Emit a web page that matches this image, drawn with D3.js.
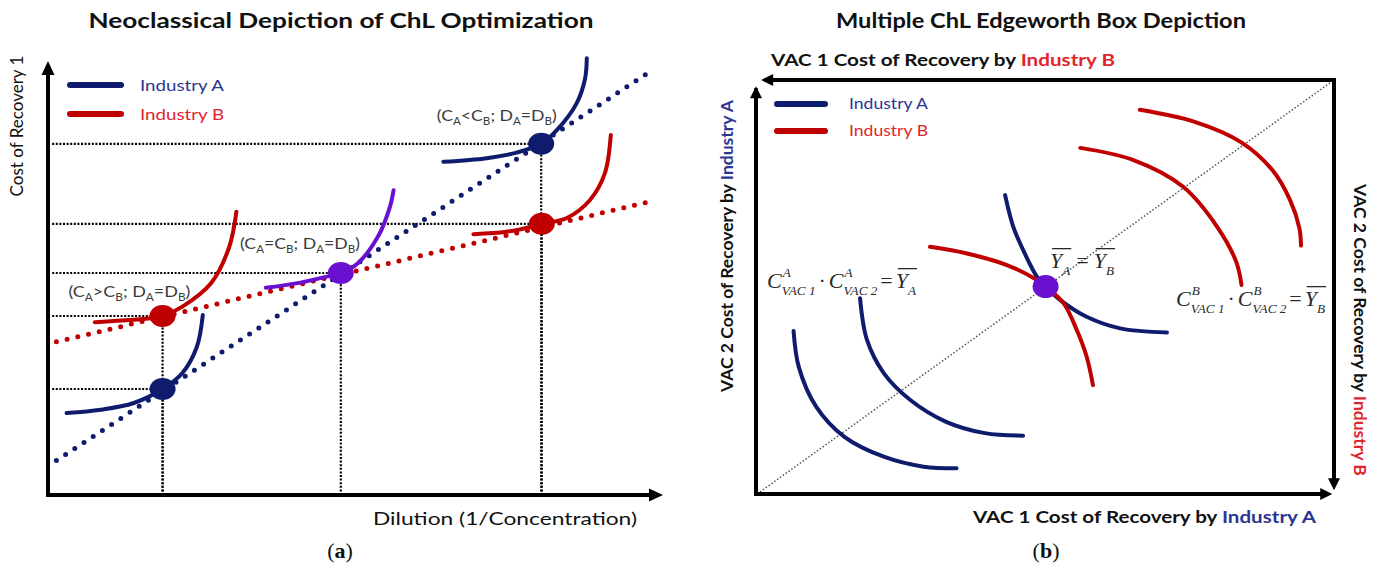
<!DOCTYPE html>
<html>
<head>
<meta charset="utf-8">
<script src="https://cdn.jsdelivr.net/npm/d3@7"></script>
<style>
  body { margin: 0; background: #fff; }
  svg { display: block; }
</style>
</head>
<body>
<svg id="chart" width="1384" height="569"></svg>
<script>
// ---------- panel (a) data: dilution (x) vs cost of recovery (y), 0-100 units ----------
const tangentA = [[1.4, 8.6], [100.5, 106.0]];
const tangentB = [[1.4, 38.3], [100.2, 73.3]];

const curveALow = [[3.1, 20.5], [8.8, 21.3], [14.3, 23.0], [19.1, 26.5], [22.4, 30.5], [24.8, 37.0], [25.8, 45.0]];
const curveBLow = [[7.8, 43.2], [12.3, 43.6], [17.0, 44.2], [19.1, 44.75], [22.4, 47.1], [27.2, 53.0], [30.2, 62.0], [31.4, 70.8]];
const curveEqual = [[36.3, 51.8], [42.1, 53.1], [46.2, 54.5], [48.8, 55.5], [51.6, 57.9], [55.0, 64.6], [57.0, 72.1], [57.6, 76.2]];
const curveAHigh = [[65.9, 83.3], [73.1, 84.2], [78.1, 85.6], [82.2, 87.8], [84.8, 91.2], [88.1, 97.9], [89.5, 104.0], [89.8, 109.2]];
const curveBHigh = [[70.9, 65.2], [76.4, 65.8], [79.8, 66.8], [82.3, 67.8], [86.4, 69.2], [90.3, 73.7], [92.8, 80.4], [93.8, 90.0]];

const optimaX = [19.1, 19.1, 48.8, 82.2, 82.3];
const optimaY = [26.5, 44.75, 55.5, 87.8, 67.8];
const optimaInd = ["A", "B", "AB", "A", "B"];

const annotations = [
  ["(C", "A", ">C", "B", "; D", "A", "=D", "B", ")"],
  ["(C", "A", "=C", "B", "; D", "A", "=D", "B", ")"],
  ["(C", "A", "<C", "B", "; D", "A", "=D", "B", ")"]
];

// ---------- panel (b) data: Edgeworth box, 0-100 units from Industry A origin ----------
const indiffA = [
  [[6.5, 39.4], [7.4, 30.7], [10.4, 21.1], [15.3, 13.8], [22.1, 9.0], [29.0, 6.6], [34.7, 6.2]],
  [[18.0, 47.3], [19.2, 37.2], [22.1, 29.2], [26.7, 22.7], [32.8, 17.5], [39.6, 14.7], [46.2, 14.1]],
  [[43.1, 72.2], [44.5, 64.6], [46.5, 58.1], [48.6, 52.5], [50.1, 50.1], [52.6, 46.9], [57.2, 42.8], [63.0, 40.0], [71.1, 39.0]]
];
const indiffB = [
  [[30.1, 59.7], [36.5, 58.1], [43.4, 55.3], [48.6, 51.7], [50.1, 50.1], [53.2, 46.1], [55.5, 39.6], [57.2, 33.2], [58.3, 26.3]],
  [[56.1, 83.6], [65.2, 80.7], [73.9, 74.2], [79.9, 64.3], [83.1, 56.0], [84.0, 50.5]],
  [[66.4, 92.8], [75.9, 89.9], [83.9, 85.0], [89.3, 78.3], [92.4, 71.0], [94.0, 64.3], [94.3, 60.0]]
];
const contractLine = [[0.7, 0.5], [99.3, 99.3]];
const tangency = [50.1, 50.1];

const legendLabels = ["Industry A", "Industry B"];

// ---------- styles ----------
const navy = "#0f1c6e", red = "#c00000", purple = "#6a10d0";
const navyText = "#2b3592", redText = "#e0262d";
const indColor = { A: navy, B: red, AB: purple };
const sans = "Lato, 'Open Sans', sans-serif";
const serif = "'Liberation Serif', 'DejaVu Serif', serif";
const mathInk = "#2a2a2a";

const svg = d3.select("#chart");

function arrowHead(g, x, y, dx, dy, len, wid) {
  let bx = x - dx * len, by = y - dy * len;
  let px = -dy * wid / 2, py = dx * wid / 2;
  g.append("path")
    .attr("d", `M${x},${y}L${bx + px},${by + py}L${bx - px},${by - py}Z`)
    .attr("fill", "#000");
}

function subText(g, x, y, parts, size, color, width) {
  let t = g.append("text").attr("x", x).attr("y", y)
    .attr("font-family", sans).attr("font-size", size).attr("fill", color)
    .attr("textLength", width).attr("lengthAdjust", "spacingAndGlyphs");
  parts.forEach((p, i) => {
    let sub = i % 2 == 1;
    t.append("tspan")
      .attr("font-size", sub ? size * 0.66 : size)
      .attr("dy", i == 0 ? 0 : (sub ? 4 : -4))
      .text(p);
  });
  return t;
}

// math term helper: base glyph with optional super/subscript and overline
function mathText(g, x, y, pieces, size) {
  let cx = x;
  for (let p of pieces) {
    let start = cx;
    let t = g.append("text").attr("x", cx).attr("y", y)
      .attr("font-family", serif).attr("font-size", size)
      .attr("font-style", p.it ? "italic" : "normal")
      .attr("fill", mathInk).text(p.t);
    cx += t.node().getComputedTextLength();
    let w = 0;
    if (p.sup) {
      let s = g.append("text").attr("x", cx + 1).attr("y", y - size * 0.5)
        .attr("font-family", serif).attr("font-size", size * 0.6).attr("font-style", "italic")
        .attr("fill", mathInk).text(p.sup);
      w = Math.max(w, s.node().getComputedTextLength() + 1);
    }
    if (p.sub) {
      let s = g.append("text").attr("x", cx).attr("y", y + size * 0.3)
        .attr("font-family", serif).attr("font-size", size * 0.6).attr("font-style", "italic")
        .attr("fill", mathInk).text(p.sub);
      w = Math.max(w, s.node().getComputedTextLength());
    }
    cx += w;
    if (p.bar) {
      g.append("line").attr("x1", start + 2).attr("x2", cx + 1)
        .attr("y1", y - size * 0.88).attr("y2", y - size * 0.88)
        .attr("stroke", mathInk).attr("stroke-width", 1.3);
    }
    cx += p.gap || 0;
  }
}

function mixedLabel(g, transform, anchor, head, tail, tailColor, size, width) {
  let t = g.append("text").attr("transform", transform).attr("text-anchor", anchor)
    .attr("font-family", sans).attr("font-weight", "bold").attr("font-size", size).attr("fill", "#111");
  if (width) t.attr("textLength", width).attr("lengthAdjust", "spacingAndGlyphs");
  t.append("tspan").text(head);
  t.append("tspan").attr("fill", tailColor).text(tail);
  return t;
}

// ================= panel (a) =================
const gA = svg.append("g");
const xA = d3.scaleLinear().domain([0, 100]).range([48, 648]);
const yA = d3.scaleLinear().domain([0, 100]).range([495, 95]);
const lineA = d3.line().x(d => xA(d[0])).y(d => yA(d[1]));
const smoothA = d3.line().x(d => xA(d[0])).y(d => yA(d[1])).curve(d3.curveCatmullRom.alpha(0.5));

gA.append("text").attr("x", 341).attr("y", 28).attr("text-anchor", "middle")
  .attr("font-family", sans).attr("font-weight", "bold").attr("font-size", 20)
  .attr("textLength", 505).attr("lengthAdjust", "spacingAndGlyphs")
  .attr("fill", "#111").text("Neoclassical Depiction of ChL Optimization");

// black dotted guides from each optimum to the axes
optimaX.forEach((x, i) => {
  let y = optimaY[i];
  gA.append("path").attr("d", lineA([[0.7, y], [x, y]]))
    .attr("fill", "none").attr("stroke", "#000").attr("stroke-width", 2.2).attr("stroke-dasharray", "2 1.6");
  gA.append("path").attr("d", lineA([[x, 0], [x, y]]))
    .attr("fill", "none").attr("stroke", "#000").attr("stroke-width", 2.2).attr("stroke-dasharray", "2 1.6");
});

// dotted cost lines
[[tangentA, navy], [tangentB, red]].forEach(([pts, c]) => {
  gA.append("path").attr("d", lineA(pts))
    .attr("fill", "none").attr("stroke", c).attr("stroke-width", 5)
    .attr("stroke-linecap", "round").attr("stroke-dasharray", "0 11");
});

// indifference curves
[[curveALow, navy], [curveBLow, red], [curveEqual, purple], [curveAHigh, navy], [curveBHigh, red]].forEach(([pts, c]) => {
  gA.append("path").attr("d", smoothA(pts))
    .attr("fill", "none").attr("stroke", c).attr("stroke-width", 4).attr("stroke-linecap", "round");
});

// optimum points
optimaX.forEach((x, i) => {
  gA.append("ellipse").attr("cx", xA(x)).attr("cy", yA(optimaY[i]))
    .attr("rx", 13).attr("ry", 11).attr("fill", indColor[optimaInd[i]]);
});

// annotations
subText(gA, xA(3.4), yA(49.4), annotations[0], 16, "#3c3c3c", 122);
subText(gA, xA(32), yA(61.4), annotations[1], 16, "#3c3c3c", 120);
subText(gA, xA(64.8), yA(93.5), annotations[2], 16, "#3c3c3c", 120);

// axes
gA.append("line").attr("x1", xA(0)).attr("y1", yA(0) + 2).attr("x2", xA(0)).attr("y2", yA(105))
  .attr("stroke", "#000").attr("stroke-width", 4);
arrowHead(gA, xA(0), yA(108.5), 0, -1, 14, 13);
gA.append("line").attr("x1", xA(0) - 2).attr("y1", yA(0)).attr("x2", xA(100.5)).attr("y2", yA(0))
  .attr("stroke", "#000").attr("stroke-width", 4);
arrowHead(gA, xA(102.5), yA(0), 1, 0, 14, 13);

gA.append("text").attr("transform", "translate(23,126) rotate(-90)")
  .attr("text-anchor", "middle").attr("font-family", sans).attr("font-size", 17)
  .attr("fill", "#111").text("Cost of Recovery 1");
gA.append("text").attr("x", 637).attr("y", 525).attr("text-anchor", "end")
  .attr("font-family", sans).attr("font-size", 17).attr("fill", "#111")
  .attr("textLength", 264).attr("lengthAdjust", "spacingAndGlyphs")
  .text("Dilution (1/Concentration)");

// legend (a)
legendLabels.forEach((lab, i) => {
  let y = 85 + i * 29;
  gA.append("line").attr("x1", 70).attr("x2", 121).attr("y1", y).attr("y2", y)
    .attr("stroke", i ? red : navy).attr("stroke-width", 6).attr("stroke-linecap", "round");
  gA.append("text").attr("x", 140).attr("y", y + 5.5).attr("font-family", sans).attr("font-size", 16)
    .attr("textLength", 84).attr("lengthAdjust", "spacingAndGlyphs")
    .attr("fill", i ? redText : navyText).text(lab);
});

gA.append("text").attr("x", 340).attr("y", 558).attr("text-anchor", "middle")
  .attr("font-family", serif).attr("font-size", 22).attr("fill", "#111")
  .html("(<tspan font-weight='bold'>a</tspan>)");

// ================= panel (b) =================
const gB = svg.append("g");
const xB = d3.scaleLinear().domain([0, 100]).range([756, 1334]);
const yB = d3.scaleLinear().domain([0, 100]).range([494, 80]);
const lineB = d3.line().x(d => xB(d[0])).y(d => yB(d[1]));
const smoothB = d3.line().x(d => xB(d[0])).y(d => yB(d[1])).curve(d3.curveCatmullRom.alpha(0.5));

gB.append("text").attr("x", 1041).attr("y", 28).attr("text-anchor", "middle")
  .attr("font-family", sans).attr("font-weight", "bold").attr("font-size", 20)
  .attr("textLength", 410).attr("lengthAdjust", "spacingAndGlyphs")
  .attr("fill", "#111").text("Multiple ChL Edgeworth Box Depiction");

gB.append("path").attr("d", lineB(contractLine))
  .attr("fill", "none").attr("stroke", "#555").attr("stroke-width", 1.5).attr("stroke-dasharray", "1.5 2");

indiffA.forEach(pts => {
  gB.append("path").attr("d", smoothB(pts)).attr("fill", "none")
    .attr("stroke", navy).attr("stroke-width", 4).attr("stroke-linecap", "round");
});
indiffB.forEach(pts => {
  gB.append("path").attr("d", smoothB(pts)).attr("fill", "none")
    .attr("stroke", red).attr("stroke-width", 4).attr("stroke-linecap", "round");
});
gB.append("ellipse").attr("cx", xB(tangency[0])).attr("cy", yB(tangency[1]))
  .attr("rx", 13).attr("ry", 11.5).attr("fill", purple);

// box axes
gB.append("line").attr("x1", xB(0)).attr("y1", yB(0) + 2).attr("x2", xB(0)).attr("y2", yB(98))
  .attr("stroke", "#000").attr("stroke-width", 4);
arrowHead(gB, xB(0), yB(98.5), 0, -1, 12, 12);
gB.append("line").attr("x1", xB(0) - 2).attr("y1", yB(0)).attr("x2", xB(98.5)).attr("y2", yB(0))
  .attr("stroke", "#000").attr("stroke-width", 4);
arrowHead(gB, xB(99.7), yB(0), 1, 0, 12, 12);
gB.append("line").attr("x1", xB(100)).attr("y1", yB(100) - 2).attr("x2", xB(100)).attr("y2", yB(2))
  .attr("stroke", "#000").attr("stroke-width", 4);
arrowHead(gB, xB(100), yB(0.9), 0, 1, 12, 12);
gB.append("line").attr("x1", xB(100) + 2).attr("y1", yB(100)).attr("x2", xB(1.5)).attr("y2", yB(100))
  .attr("stroke", "#000").attr("stroke-width", 4);
arrowHead(gB, xB(0.9), yB(100), -1, 0, 12, 12);

// axis titles
mixedLabel(gB, "translate(771,66)", "start", "VAC 1 Cost of Recovery by ", "Industry B", redText, 17, 344);
mixedLabel(gB, "translate(1316,523)", "end", "VAC 1 Cost of Recovery by ", "Industry A", navyText, 17, 343);
mixedLabel(gB, "translate(733,246) rotate(-90)", "middle", "VAC 2 Cost of Recovery by ", "Industry A", navyText, 17.5, null);
mixedLabel(gB, "translate(1354,330) rotate(90)", "middle", "VAC 2 Cost of Recovery by ", "Industry B", redText, 17.5, null);

// legend (b)
legendLabels.forEach((lab, i) => {
  let y = 104 + i * 27;
  gB.append("line").attr("x1", 777).attr("x2", 825).attr("y1", y).attr("y2", y)
    .attr("stroke", i ? red : navy).attr("stroke-width", 6).attr("stroke-linecap", "round");
  gB.append("text").attr("x", 849).attr("y", y + 5).attr("font-family", sans).attr("font-size", 15)
    .attr("textLength", 79).attr("lengthAdjust", "spacingAndGlyphs")
    .attr("fill", i ? redText : navyText).text(lab);
});

// utility formulas
mathText(gB, 767, 288, [
  { t: "C", it: true, sup: "A", sub: "VAC 1", gap: 3 },
  { t: "·", gap: 3 },
  { t: "C", it: true, sup: "A", sub: "VAC 2", gap: 3 },
  { t: "=", gap: 3 },
  { t: "Y", it: true, sub: "A", bar: true }
], 22);
mathText(gB, 1050, 268, [
  { t: "Y", it: true, sub: "A", bar: true, gap: 6 },
  { t: "=", gap: 5 },
  { t: "Y", it: true, sub: "B", bar: true }
], 22);
mathText(gB, 1176, 306, [
  { t: "C", it: true, sup: "B", sub: "VAC 1", gap: 3 },
  { t: "·", gap: 3 },
  { t: "C", it: true, sup: "B", sub: "VAC 2", gap: 3 },
  { t: "=", gap: 3 },
  { t: "Y", it: true, sub: "B", bar: true }
], 22);

gB.append("text").attr("x", 1046).attr("y", 558).attr("text-anchor", "middle")
  .attr("font-family", serif).attr("font-size", 22).attr("fill", "#111")
  .html("(<tspan font-weight='bold'>b</tspan>)");
</script>
</body>
</html>
